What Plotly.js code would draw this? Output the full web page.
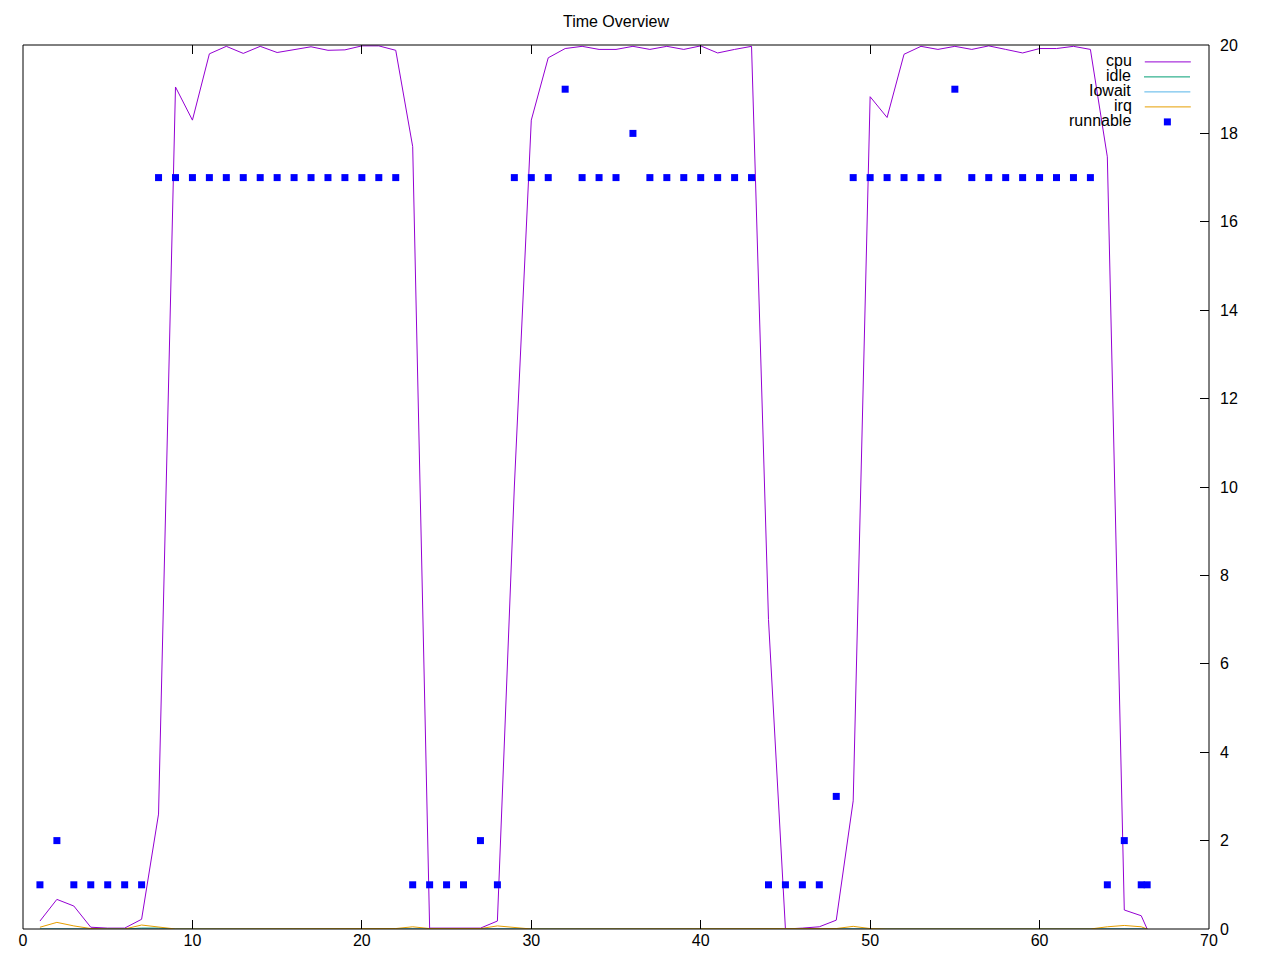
<!DOCTYPE html>
<html>
<head>
<meta charset="utf-8">
<script src="https://cdn.plot.ly/plotly-3.0.1.min.js"></script>
<style>html,body{margin:0;padding:0;background:#fff;}#chart{width:1280px;height:960px;}</style>
</head>
<body>
<div id="chart"></div>
<script>
// sample times (x axis)
const time = [1,2,3,4,5,6,7,8,9,10,11,12,13,14,15,16,17,18,19,20,21,22,23,24,25,26,27,28,29,30,31,32,33,34,35,36,37,38,39,40,41,42,43,44,45,46,47,48,49,50,51,52,53,54,55,56,57,58,59,60,61,62,63,64,65,66,66.35];

const cpu = [0.18,0.67,0.52,0.04,0.02,0.02,0.22,
  2.6,19.05,18.3,19.8,19.97,19.81,19.97,19.83,19.89,19.96,19.88,19.89,19.98,19.98,19.88,
  17.7,0.02,0.02,0.02,0.02,0.18,
  10,18.3,19.71,19.92,19.97,19.9,19.9,19.97,
  19.9,19.97,19.9,19.98,19.82,19.9,19.97,
  7,0,0.02,0.05,0.2,
  2.9,18.83,18.36,19.79,19.97,19.9,
  19.97,
  19.9,19.98,19.9,19.82,19.92,19.92,19.97,19.9,
  17.47,0.43,0.3,0];

const idle = [0,0,0,0,0,0,0.02,
  0.02,0,0,0,0,0,0,0,0,0,0,0,0,0,0,
  0,0,0,0,0,0,
  0,0,0,0,0,0,0,0,
  0,0,0,0,0,0,0,
  0,0,0,0,0,
  0,0,0,0,0,0,
  0,
  0,0,0,0,0,0,0,0,
  0,0,0,0];

const iowait = [0,0,0,0,0,0,0,
  0,0,0,0,0,0,0,0,0,0,0,0,0,0,0,
  0,0,0,0,0,0,
  0,0,0,0,0,0,0,0,
  0,0,0,0,0,0,0,
  0,0,0,0,0,
  0,0,0,0,0,0,
  0,
  0,0,0,0,0,0,0,0,
  0,0,0,0];

const irq = [0.04,0.15,0.07,0.01,0,0,0.09,
  0.04,0,0,0,0,0,0,0,0,0,0,0,0,0,0.01,
  0.05,0.01,0.01,0.01,0.01,0.07,
  0.04,0,0,0,0,0,0,0,
  0,0,0,0,0,0,0,
  0,0,0,0,0.01,
  0.06,0.01,0,0,0,0,
  0,
  0,0,0,0,0,0,0,0,
  0.05,0.08,0.05,0];

const runnable = [1,2,1,1,1,1,1,
  17,17,17,17,17,17,17,17,17,17,17,17,17,17,17,
  1,1,1,1,2,1,
  17,17,17,19,17,17,17,18,
  17,17,17,17,17,17,17,
  1,1,1,1,3,
  17,17,17,17,17,17,
  19,
  17,17,17,17,17,17,17,17,
  1,2,1,1];

const seriesNames = ['cpu','idle','Iowait','irq','runnable'];
const seriesColors = ['#9400d3','#009e73','#56b4e9','#e69f00','#0000ff'];
const xTicks = [0,10,20,30,40,50,60,70];
const yTicks = [0,2,4,6,8,10,12,14,16,18,20];

const FONT = 'Liberation Sans, Arial, sans-serif';
const legendIds = ['legend','legend2','legend3','legend4','legend5'];
const lineSeries = [cpu, idle, iowait, irq];

const traces = lineSeries.map((vals, i) => ({
  type: 'scatter', mode: 'lines', x: time, y: vals, name: '',
  line: {color: seriesColors[i], width: 1},
  legend: legendIds[i], showlegend: true, hoverinfo: 'x+y'
}));
traces.push({
  type: 'scatter', mode: 'markers', x: time, y: runnable, name: '',
  marker: {symbol: 'square', size: 7, color: seriesColors[4]},
  legend: legendIds[4], showlegend: true, hoverinfo: 'x+y'
});

const W = 1280, H = 960;
const M = {l: 23, r: 71, t: 45, b: 31};
const PW = W - M.l - M.r, PH = H - M.t - M.b;
const rowY = [62, 77, 92, 107, 122];
const legendRight = 1201;

const layout = {
  width: W, height: H,
  paper_bgcolor: '#ffffff', plot_bgcolor: '#ffffff',
  margin: M,
  font: {family: FONT, size: 16, color: '#000'},
  title: {text: 'Time Overview', font: {family: FONT, size: 16, color: '#000'},
          x: 0.5, xref: 'paper', xanchor: 'center', y: 1 - 21 / H, yref: 'container', yanchor: 'middle'},
  xaxis: {range: [0, 70], tickvals: xTicks, ticktext: xTicks.map(String),
          ticks: 'inside', ticklen: 9, tickwidth: 1, tickcolor: '#000',
          showline: false, mirror: 'ticks', showgrid: false, zeroline: false,
          tickfont: {family: FONT, size: 16, color: '#000'}},
  yaxis: {range: [0, 20], side: 'right', tickvals: yTicks, ticktext: yTicks.map(String),
          ticks: 'inside', ticklen: 9, tickwidth: 1, tickcolor: '#000',
          showline: false, mirror: false, showgrid: false, zeroline: false,
          ticklabelstandoff: 10,
          tickfont: {family: FONT, size: 16, color: '#000'}},
  shapes: [{type: 'rect', xref: 'paper', yref: 'paper', x0: 0, x1: 1, y0: 0, y1: 1,
            line: {color: '#000', width: 1}, fillcolor: 'rgba(0,0,0,0)', layer: 'above'}],
  hovermode: false
};

legendIds.forEach((id, i) => {
  layout[id] = {
    xref: 'paper', yref: 'paper',
    x: (legendRight - M.l) / PW, xanchor: 'right',
    y: (H - M.b - rowY[i]) / PH, yanchor: 'middle',
    bgcolor: 'rgba(0,0,0,0)', borderwidth: 0,
    itemwidth: 46,
    title: {text: seriesNames[i], side: 'left', font: {family: FONT, size: 16, color: '#000'}},
    font: {family: FONT, size: 16, color: '#000'}
  };
});

Plotly.newPlot('chart', traces, layout, {displayModeBar: false, staticPlot: true});
</script>
</body>
</html>
